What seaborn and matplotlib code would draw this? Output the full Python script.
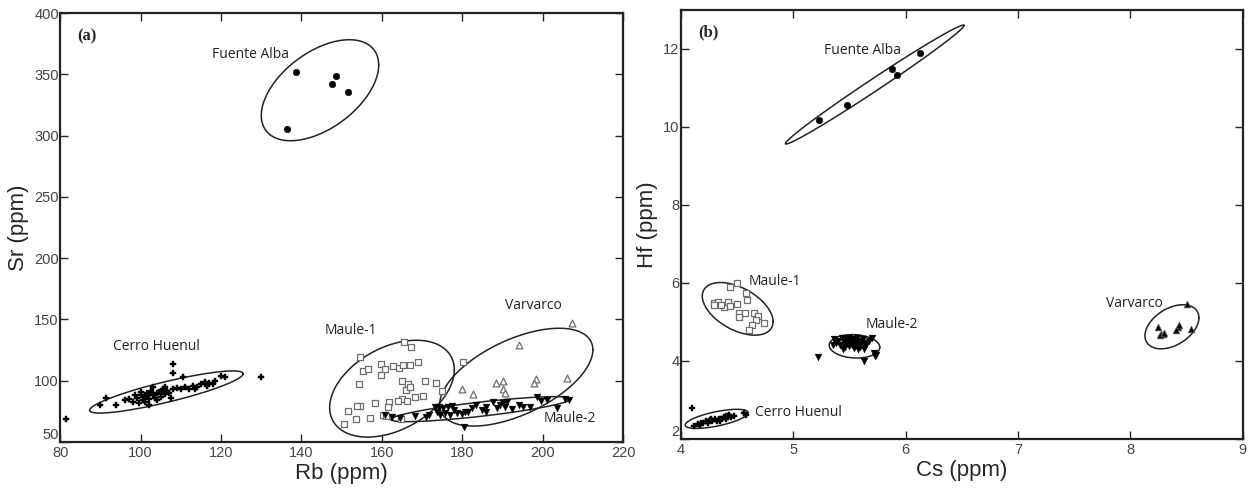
import numpy as np
import pandas as pd
import matplotlib
matplotlib.use('Agg')
import matplotlib.pyplot as plt
import seaborn as sns

# ---- panel (a): Rb vs Sr ----
fa_rb = [138.7, 148.5, 147.5, 151.5, 136.3]
fa_sr = [352, 349, 342, 335.6, 305.6]

ch_rb = [81.5, 90, 91.5, 94, 96, 97, 98, 99, 99.5, 100, 100.5, 101, 101.5, 102, 102, 102.5,
         103, 103, 103.5, 104, 104.5, 105, 105.5, 106, 106.5, 107, 107.5, 108, 108, 108,
         109, 110, 110.5, 111, 112, 113, 113.5, 114, 115, 116, 116.5, 117, 118, 118.5,
         120, 121, 130, 101, 102, 104, 105, 106, 100, 98.5]
ch_sr = [69, 80, 86, 80, 84, 85, 83, 86, 82, 88, 84, 87, 90, 85, 80, 92,
         88, 95, 86, 90, 91, 87, 93, 89, 92, 90, 86, 93, 106, 114,
         94, 93, 103, 95, 93, 96, 93, 95, 97, 99, 96, 98, 97, 100,
         104, 103, 103, 83, 89, 84, 90, 95, 91, 88]

m1_rb = [154.6, 155.4, 156.6, 154.4, 159.7, 159.7, 160.8, 162.7, 164.3, 165.3, 167, 165.5,
         167.2, 169, 164.9, 166.6, 166, 167, 170.6, 173.5, 168.3, 170.3, 164.9, 164, 161.7,
         158.2, 154.6, 153.8, 151.5, 150.6, 153.6, 157, 160.2, 160.9, 164.7, 161.6, 174.9,
         180.1, 166.3]
m1_sr = [119.1, 108, 109.6, 97.1, 113.7, 104.7, 109.6, 112, 110.1, 112.6, 112.6, 131.3,
         127.3, 115.3, 100.1, 97.3, 92.4, 94.6, 99.5, 98.4, 86.4, 87.8, 85.1, 83.7, 82.9,
         81.5, 79.4, 79.4, 75.3, 64.7, 69, 69.6, 72, 71.5, 68.8, 78.8, 91.3,
         115, 83.7]

va_rb = [207.2, 194, 206, 198.2, 197.9, 190, 188.3, 190, 179.8, 182.6, 190.5]
va_sr = [146.9, 129.2, 102.5, 101.1, 97.9, 99.8, 97.9, 93, 93, 88.9, 89.7]

m2_rb = [160.8, 162.4, 164.5, 168.2, 171, 171.8, 173.2, 173.8, 174.5, 175.3, 175.7, 176.5,
         177, 177.8, 178.6, 180.3, 180.7, 182.3, 183.4, 184.8, 186, 187.7, 188.5, 189.4,
         190, 190.6, 192.3, 194.2, 195.2, 196.8, 198.5, 199.5, 201, 203.6, 205.5, 206.4,
         174.3, 177.3, 179.8, 181.5, 186, 191]
m2_sr = [72, 70.1, 69.3, 71.2, 70.7, 72, 78.3, 74.7, 72, 77.5, 73.9, 78.3,
         72, 76.1, 73.4, 62.5, 74.7, 77.5, 80.2, 76.1, 78.3, 82.9, 77.5, 80.2,
         81.5, 78.3, 76.6, 80.2, 78.3, 78.8, 87, 83.7, 84.3, 77.5, 84.8, 84.3,
         78.8, 79.4, 72.6, 74.7, 74.7, 82.9]

# ellipses: centre x, centre y, half x-extent, half y-extent, phase (deg)
ell_a_cx = [144.6, 106.4, 162.5, 193.4, 184.6]
ell_a_cy = [337, 90.8, 93.5, 102.9, 76.8]
ell_a_rx = [14.6, 19.1, 15.5, 19.05, 22.4]
ell_a_ry = [41.2, 17.2, 39.5, 39.9, 10.2]
ell_a_ph = [60, 30, 67, 56, 35]

lab_a_text = ['Fuente Alba', 'Cerro Huenul', 'Maule-1', 'Varvarco', 'Maule-2']
lab_a_x = [127.3, 104, 152.3, 197.7, 206.6]
lab_a_y = [366, 128, 140.9, 161, 69.3]

# ---- panel (b): Cs vs Hf ----
fa_cs = [5.23, 5.48, 5.88, 5.92, 6.13]
fa_hf = [10.18, 10.57, 11.49, 11.32, 11.89]

ch_cs = [4.12, 4.15, 4.18, 4.20, 4.22, 4.24, 4.26, 4.28, 4.30, 4.32, 4.34, 4.36, 4.38,
         4.40, 4.42, 4.43, 4.45, 4.47, 4.56, 4.58, 4.10, 4.17, 4.27, 4.35, 4.40]
ch_hf = [2.32, 2.38, 2.40, 2.42, 2.45, 2.40, 2.48, 2.45, 2.50, 2.47, 2.52, 2.50, 2.55,
         2.52, 2.58, 2.62, 2.56, 2.60, 2.66, 2.62, 2.79, 2.35, 2.52, 2.45, 2.60]

m1_cs = [4.50, 4.44, 4.58, 4.59, 4.29, 4.33, 4.38, 4.42, 4.44, 4.50, 4.52, 4.57, 4.52,
         4.65, 4.69, 4.67, 4.74, 4.63, 4.61, 4.29, 4.36]
m1_hf = [5.99, 5.89, 5.73, 5.56, 5.48, 5.52, 5.39, 5.52, 5.41, 5.45, 5.22, 5.24, 5.13,
         5.22, 5.15, 5.05, 4.98, 4.92, 4.79, 5.44, 5.44]

m2_cs = [5.36, 5.38, 5.40, 5.42, 5.43, 5.45, 5.46, 5.47, 5.48, 5.50, 5.50, 5.51, 5.52,
         5.53, 5.54, 5.55, 5.56, 5.57, 5.58, 5.59, 5.60, 5.61, 5.62, 5.63, 5.64, 5.65,
         5.67, 5.70, 5.72, 5.74, 5.73, 5.63, 5.22, 5.35, 5.44, 5.58]
m2_hf = [4.55, 4.45, 4.52, 4.40, 4.58, 4.48, 4.35, 4.55, 4.45, 4.60, 4.38, 4.50, 4.42,
         4.56, 4.32, 4.48, 4.40, 4.58, 4.45, 4.35, 4.52, 4.42, 4.55, 4.30, 4.47, 4.40,
         4.50, 4.58, 4.20, 4.15, 4.12, 4.01, 4.10, 4.42, 4.30, 4.30]

va_cs = [8.25, 8.27, 8.29, 8.26, 8.42, 8.43, 8.41, 8.50, 8.54, 8.30]
va_hf = [4.88, 4.70, 4.68, 4.66, 4.86, 4.92, 4.80, 5.45, 4.82, 4.72]

ell_b_cx = [5.725, 4.318, 4.505, 5.545, 8.37]
ell_b_cy = [11.085, 2.515, 5.335, 4.375, 4.875]
ell_b_rx = [0.795, 0.28, 0.315, 0.225, 0.24]
ell_b_ry = [1.525, 0.245, 0.675, 0.30, 0.565]
ell_b_ph = [7, 50, 119, 95, 66]

lab_b_text = ['Fuente Alba', 'Maule-1', 'Maule-2', 'Varvarco', 'Cerro Huenul']
lab_b_x = [5.62, 4.84, 5.88, 8.04, 4.66]
lab_b_y = [11.96, 6.04, 4.93, 5.47, 2.69]
lab_b_ha = ['center', 'center', 'center', 'center', 'left']

sns.set_style('ticks')
plt.rcParams['font.family'] = ['Liberation Sans', 'DejaVu Sans']

fig = plt.figure(figsize=(12.54, 4.91), dpi=100)
ax1 = fig.add_axes([0.048, 0.0998, 0.449, 0.8737])
ax2 = fig.add_axes([0.543, 0.106, 0.448, 0.874])

grey = '#6e6e6e'


def draw_ellipses(ax, cx, cy, rx, ry, ph):
    t = np.linspace(0, 2 * np.pi, 300)
    for i in range(len(cx)):
        xs = cx[i] + rx[i] * np.cos(t)
        ys = cy[i] + ry[i] * np.cos(t - np.radians(ph[i]))
        ax.plot(xs, ys, color='#222222', lw=1.1, zorder=1)


def style_axes(ax):
    for s in ax.spines.values():
        s.set_linewidth(1.6)
        s.set_color('#222222')
    ax.tick_params(direction='in', top=True, right=True, length=6, width=1,
                   labelsize=10.5, labelcolor='#444444')
    ax.tick_params(axis='x', pad=3)
    ax.tick_params(axis='y', pad=1)
    # lowest y label sits just above the x axis, as in the original
    ax.get_yticklabels()[0].set_verticalalignment('bottom')


# panel (a)
sns.scatterplot(x=fa_rb, y=fa_sr, ax=ax1, marker='o', color='black', s=22, edgecolor='black', zorder=3)
sns.scatterplot(x=ch_rb, y=ch_sr, ax=ax1, marker='P', color='black', s=24, edgecolor='black', linewidth=0.3, zorder=3)
sns.scatterplot(x=m1_rb, y=m1_sr, ax=ax1, marker='s', facecolor='white', edgecolor=grey, s=20, linewidth=0.9, zorder=3)
sns.scatterplot(x=va_rb, y=va_sr, ax=ax1, marker='^', facecolor='white', edgecolor=grey, s=24, linewidth=0.9, zorder=3)
sns.scatterplot(x=m2_rb, y=m2_sr, ax=ax1, marker='v', color='black', s=24, edgecolor='black', linewidth=0.3, zorder=4)
draw_ellipses(ax1, ell_a_cx, ell_a_cy, ell_a_rx, ell_a_ry, ell_a_ph)
for t, x, y in zip(lab_a_text, lab_a_x, lab_a_y):
    ax1.text(x, y, t, ha='center', va='center', fontsize=10, family='Open Sans', color='#222222')
ax1.text(0.03, 0.965, '(a)', transform=ax1.transAxes, ha='left', va='top',
         fontsize=12, fontweight='bold', family='Liberation Serif')
ax1.set_xlim(80, 220)
ax1.set_ylim(50, 400)
ax1.set_xticks(range(80, 221, 20))
ax1.set_yticks(range(50, 401, 50))
ax1.set_xlabel('Rb (ppm)', fontsize=16, labelpad=2)
ax1.set_ylabel('Sr (ppm)', fontsize=16, labelpad=4)
style_axes(ax1)

# panel (b)
sns.scatterplot(x=fa_cs, y=fa_hf, ax=ax2, marker='o', color='black', s=22, edgecolor='black', zorder=3)
sns.scatterplot(x=ch_cs, y=ch_hf, ax=ax2, marker='P', color='black', s=24, edgecolor='black', linewidth=0.3, zorder=3)
sns.scatterplot(x=m1_cs, y=m1_hf, ax=ax2, marker='s', facecolor='white', edgecolor=grey, s=20, linewidth=0.9, zorder=3)
sns.scatterplot(x=m2_cs, y=m2_hf, ax=ax2, marker='v', color='black', s=24, edgecolor='black', linewidth=0.3, zorder=4)
sns.scatterplot(x=va_cs, y=va_hf, ax=ax2, marker='^', color='black', s=24, edgecolor=grey, linewidth=0.5, zorder=3)
draw_ellipses(ax2, ell_b_cx, ell_b_cy, ell_b_rx, ell_b_ry, ell_b_ph)
for t, x, y, ha in zip(lab_b_text, lab_b_x, lab_b_y, lab_b_ha):
    ax2.text(x, y, t, ha=ha, va='center', fontsize=10, family='Open Sans', color='#222222')
ax2.text(0.03, 0.965, '(b)', transform=ax2.transAxes, ha='left', va='top',
         fontsize=12, fontweight='bold', family='Liberation Serif')
ax2.set_xlim(4, 9)
ax2.set_ylim(2, 13)
ax2.set_xticks(range(4, 10))
ax2.set_yticks(range(2, 13, 2))
ax2.set_xlabel('Cs (ppm)', fontsize=16, labelpad=2)
ax2.set_ylabel('Hf (ppm)', fontsize=16, labelpad=4)
style_axes(ax2)

fig.savefig('out.png', dpi=100)
